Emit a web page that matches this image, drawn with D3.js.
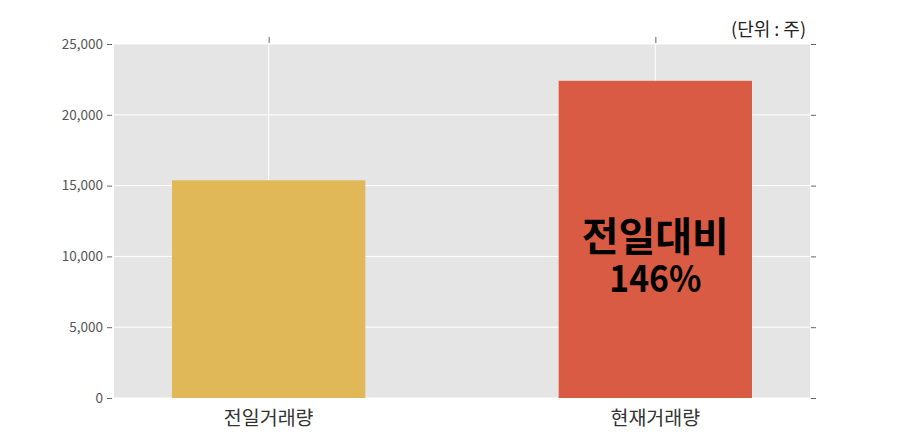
<!DOCTYPE html>
<html><head><meta charset="utf-8">
<script src="https://cdn.jsdelivr.net/npm/d3@7"></script>
<style>body{margin:0;background:#fff}svg{display:block}text{font-family:"Noto Sans CJK KR","Noto Sans",sans-serif}</style>
</head><body>
<svg id="c" width="900" height="443"></svg>
<script>
const categories = ["전일거래량", "현재거래량"];
const values = [15375, 22400];
const colors = ["#E0B857", "#D95B43"];
const yTicks = [0, 5000, 10000, 15000, 20000, 25000];
const unitLabel = "(단위 : 주)";
const annotation = ["전일대비", "146%"];

const svg = d3.select("#c");
const L = 114, R = 810, T = 44, B = 398;
const x = d3.scaleLinear().domain([-0.4, 1.4]).range([L, R]);
const y = d3.scaleLinear().domain([0, 25000]).range([B, T]);

svg.append("rect").attr("x", L).attr("y", T).attr("width", R - L).attr("height", B - T).attr("fill", "#E5E5E5");

svg.selectAll(".hg").data(yTicks).enter().append("line")
  .attr("x1", L).attr("x2", R).attr("y1", d => y(d)).attr("y2", d => y(d))
  .attr("stroke", "#fff").attr("stroke-width", 1);
svg.selectAll(".vg").data(categories).enter().append("line")
  .attr("x1", (d, i) => x(i)).attr("x2", (d, i) => x(i)).attr("y1", T).attr("y2", B)
  .attr("stroke", "#fff").attr("stroke-width", 1);

svg.selectAll(".bar").data(values).enter().append("rect")
  .attr("x", (d, i) => x(i - 0.25)).attr("width", x(0.25) - x(-0.25))
  .attr("y", d => y(d)).attr("height", d => B - y(d))
  .attr("fill", (d, i) => colors[i]);

const fmt = d3.format(",");
const yl = svg.append("g").attr("transform", `translate(${L - 2},0)`)
  .call(d3.axisLeft(y).tickValues(yTicks).tickFormat(fmt).tickSize(5).tickPadding(4));
yl.select(".domain").remove();
yl.selectAll("line").attr("stroke", "#666");
yl.selectAll("text").attr("font-size", 13.5).attr("fill", "#555").style("font-family", '"Noto Sans CJK KR","Noto Sans",sans-serif');

const yr = svg.append("g").attr("transform", `translate(${R + 1},0)`)
  .call(d3.axisRight(y).tickValues(yTicks).tickFormat("").tickSize(5));
yr.select(".domain").remove();
yr.selectAll("line").attr("stroke", "#666");

const xt = svg.append("g").attr("transform", `translate(0,${T - 1})`)
  .call(d3.axisTop(x).tickValues([0, 1]).tickFormat("").tickSize(6));
xt.select(".domain").remove();
xt.selectAll("line").attr("stroke", "#666");

svg.selectAll(".xl").data(categories).enter().append("text")
  .attr("x", (d, i) => x(i)).attr("y", 425).attr("text-anchor", "middle")
  .attr("font-size", 19.5).attr("fill", "#333").text(d => d);

svg.append("text").attr("x", 806).attr("y", 36).attr("text-anchor", "end")
  .attr("font-size", 18).attr("fill", "#222").attr("xml:space", "preserve").text(unitLabel);

svg.append("text").attr("x", x(1)).attr("y", 251).attr("text-anchor", "middle")
  .attr("font-size", 40).attr("font-weight", "bold").attr("fill", "#000").text(annotation[0]);
svg.append("text").attr("x", x(1)).attr("y", 292).attr("text-anchor", "middle")
  .attr("font-size", 37).attr("font-weight", "bold").attr("fill", "#000")
  .attr("textLength", 92).attr("lengthAdjust", "spacingAndGlyphs").text(annotation[1]);
</script>
</body></html>
